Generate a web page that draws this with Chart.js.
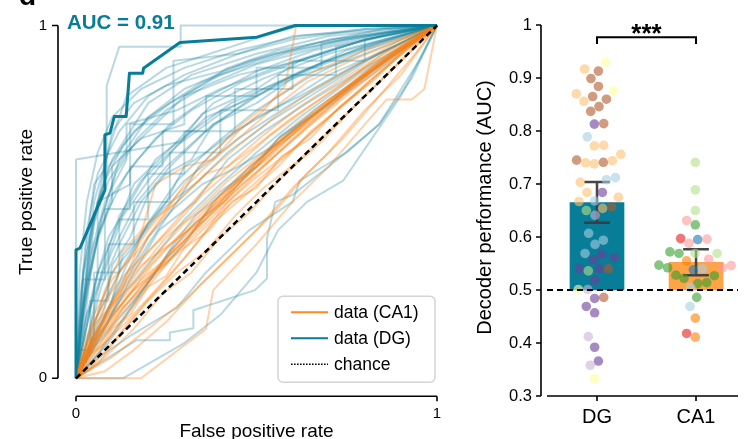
<!DOCTYPE html>
<html>
<head>
<meta charset="utf-8">
<script src="https://cdn.jsdelivr.net/npm/chart.js@4.4.1/dist/chart.umd.min.js"></script>
<style>
  html, body { margin: 0; padding: 0; background: #fff; }
  #wrap { position: relative; width: 753px; height: 439px; overflow: hidden; }
  canvas { position: absolute; top: 0; }
  #roc { left: 0; }
  #auc { left: 470px; }
</style>
</head>
<body>
<div id="wrap">
  <canvas id="roc" width="460" height="439"></canvas>
  <canvas id="auc" width="283" height="439"></canvas>
</div>
<script>
// ---- left panel: ROC curves, one [fpr, tpr] list per session ----
const dgCurves = [
  [[0,0],[0.02,0.3],[0.05,0.55],[0.085,0.6],[0.085,0.83],[0.12,0.94],[0.29,0.94],[0.29,1],[1,1]],
  [[0,0],[0,0.62],[0.29,0.67],[0.35,0.75],[0.5,0.82],[0.62,0.9],[0.8,0.96],[1,1]],
  [[0,0],[0.03,0.25],[0.07,0.45],[0.12,0.62],[0.2,0.74],[0.35,0.84],[0.5,0.9],[0.7,0.96],[1,1]],
  [[0,0],[0.02,0.2],[0.05,0.38],[0.1,0.5],[0.1,0.6],[0.18,0.68],[0.3,0.72],[0.3,0.8],[0.45,0.86],[0.62,0.9],[0.8,0.96],[1,1]],
  [[0,0],[0.04,0.2],[0.1,0.36],[0.17,0.5],[0.25,0.6],[0.38,0.72],[0.55,0.83],[0.75,0.93],[1,1]],
  [[0,0],[0.05,0.16],[0.12,0.3],[0.2,0.44],[0.3,0.56],[0.45,0.68],[0.6,0.78],[0.8,0.9],[1,1]],
  [[0,0],[0.06,0.04],[0.168,0.108],[0.26,0.108],[0.26,0.13],[0.325,0.142],[0.325,0.193],[0.496,0.25],[0.529,0.283],[0.529,0.396],[0.552,0.5],[0.6,0.52],[0.7,0.6],[0.84,0.72],[0.93,0.85],[1,1]],
  [[0,0],[0.05,0.05],[0.15,0.12],[0.28,0.2],[0.36,0.3],[0.48,0.42],[0.6,0.5],[0.62,0.56],[0.75,0.64],[0.84,0.72],[0.95,0.9],[1,1]],
  [[0,0],[0.01,0.15],[0.04,0.35],[0.08,0.5],[0.14,0.62],[0.14,0.72],[0.28,0.76],[0.4,0.82],[0.55,0.88],[0.7,0.93],[0.88,0.98],[1,1]],
  [[0,0],[0.06,0.12],[0.14,0.25],[0.22,0.35],[0.3,0.45],[0.4,0.55],[0.5,0.64],[0.62,0.74],[0.78,0.86],[1,1]],
  [[0,0],[0.02,0.1],[0.06,0.3],[0.11,0.42],[0.16,0.55],[0.26,0.65],[0.38,0.78],[0.52,0.85],[0.7,0.92],[1,1]],
  [[0,0],[0.08,0.2],[0.1,0.32],[0.15,0.4],[0.2,0.52],[0.25,0.58],[0.32,0.62],[0.38,0.72],[0.5,0.78],[0.6,0.85],[0.75,0.9],[0.9,0.96],[1,1]],
  [[0,0],[0,0.08],[0.04,0.08],[0.04,0.22],[0.09,0.22],[0.09,0.38],[0.16,0.38],[0.16,0.5],[0.26,0.5],[0.26,0.64],[0.4,0.64],[0.4,0.76],[0.56,0.76],[0.56,0.86],[0.72,0.86],[0.72,0.94],[1,1]],
  [[0,0],[0.03,0.18],[0.08,0.32],[0.13,0.46],[0.2,0.56],[0.28,0.66],[0.36,0.74],[0.5,0.8],[0.66,0.88],[0.84,0.95],[1,1]],
  [[0,0],[0.015,0.25],[0.04,0.42],[0.08,0.56],[0.13,0.66],[0.2,0.74],[0.3,0.82],[0.48,0.9],[0.66,0.95],[0.85,0.99],[1,1]],
  [[0,0],[0.1,0.18],[0.16,0.3],[0.23,0.42],[0.33,0.5],[0.42,0.62],[0.52,0.7],[0.64,0.78],[0.8,0.88],[1,1]],
  [[0,0],[0.04,0.1],[0.1,0.22],[0.13,0.35],[0.19,0.42],[0.25,0.5],[0.3,0.6],[0.36,0.64],[0.44,0.7],[0.56,0.77],[0.7,0.86],[0.88,0.94],[1,1]],
  [[0,0],[0.03,0.32],[0.06,0.5],[0.1,0.62],[0.15,0.7],[0.2,0.78],[0.32,0.86],[0.5,0.92],[0.7,0.97],[1,1]],
  [[0,0],[0.05,0.12],[0.05,0.3],[0.12,0.3],[0.12,0.45],[0.2,0.45],[0.2,0.58],[0.3,0.58],[0.3,0.7],[0.44,0.7],[0.44,0.82],[0.6,0.82],[0.6,0.9],[0.8,0.9],[0.8,0.96],[1,1]],
  [[0,0],[0.07,0.08],[0.15,0.2],[0.22,0.3],[0.3,0.38],[0.38,0.5],[0.46,0.58],[0.55,0.66],[0.66,0.76],[0.8,0.86],[1,1]],
  [[0,0],[0.02,0.14],[0.05,0.26],[0.09,0.4],[0.15,0.5],[0.22,0.62],[0.32,0.7],[0.43,0.78],[0.56,0.84],[0.72,0.91],[0.9,0.97],[1,1]],
  [[0,0],[0.04,0.4],[0.07,0.55],[0.1,0.7],[0.16,0.78],[0.25,0.83],[0.4,0.87],[0.55,0.92],[0.75,0.96],[1,1]],
  [[0,0],[0.09,0.1],[0.18,0.24],[0.26,0.36],[0.33,0.44],[0.41,0.5],[0.49,0.6],[0.57,0.69],[0.7,0.78],[0.85,0.9],[1,1]],
  [[0,0],[0.03,0.06],[0.06,0.18],[0.1,0.3],[0.18,0.4],[0.24,0.48],[0.34,0.56],[0.42,0.64],[0.54,0.73],[0.68,0.82],[0.84,0.92],[1,1]],
  [[0,0],[0.02,0.28],[0.08,0.28],[0.08,0.48],[0.15,0.48],[0.15,0.6],[0.24,0.6],[0.24,0.7],[0.36,0.7],[0.36,0.8],[0.5,0.8],[0.5,0.88],[0.68,0.88],[0.68,0.95],[1,1]],
  [[0,0],[0.12,0.26],[0.2,0.4],[0.27,0.48],[0.35,0.55],[0.45,0.6],[0.55,0.66],[0.65,0.74],[0.78,0.84],[0.9,0.93],[1,1]],
  [[0,0],[0.02,0.06],[0.05,0.2],[0.08,0.34],[0.12,0.46],[0.18,0.56],[0.28,0.66],[0.4,0.75],[0.52,0.82],[0.65,0.88],[0.82,0.95],[1,1]],
  [[0,0],[0.01,0.2],[0.03,0.42],[0.06,0.58],[0.12,0.7],[0.2,0.8],[0.3,0.86],[0.45,0.92],[0.6,0.96],[0.8,0.99],[1,1]],
  [[0,0],[0.05,0.5],[0.1,0.68],[0.14,0.8],[0.25,0.88],[0.4,0.93],[0.52,0.97],[0.62,1],[1,1]],
  [[0,0],[0.06,0.1],[0.1,0.15],[0.16,0.22],[0.22,0.3],[0.27,0.38],[0.33,0.46],[0.4,0.53],[0.5,0.6],[0.56,0.68],[0.68,0.76],[0.82,0.86],[1,1]],
  [[0,0],[0.13,0],[0.3,0.1],[0.4,0.18],[0.5,0.3],[0.56,0.42],[0.64,0.5],[0.74,0.56],[0.82,0.68],[0.9,0.8],[1,1]],
  [[0,0],[0.02,0.22],[0.05,0.36],[0.09,0.48],[0.14,0.58],[0.22,0.68],[0.32,0.76],[0.46,0.84],[0.62,0.9],[0.8,0.96],[1,1]],
  [[0,0],[0.03,0.1],[0.07,0.26],[0.12,0.38],[0.18,0.5],[0.26,0.6],[0.36,0.7],[0.48,0.79],[0.62,0.87],[0.8,0.94],[1,1]],
  [[0,0],[0.01,0.1],[0.02,0.3],[0.05,0.46],[0.09,0.6],[0.16,0.7],[0.26,0.78],[0.4,0.86],[0.58,0.92],[0.78,0.97],[1,1]],
  [[0,0],[0.03,0.15],[0.06,0.3],[0.06,0.5],[0.15,0.55],[0.15,0.72],[0.27,0.72],[0.27,0.9],[0.45,0.92],[0.6,0.97],[1,1]],
  [[0,0],[0.08,0.14],[0.14,0.28],[0.2,0.38],[0.28,0.5],[0.34,0.6],[0.42,0.68],[0.5,0.74],[0.62,0.8],[0.76,0.88],[0.9,0.95],[1,1]],
  [[0,0],[0.02,0.12],[0.04,0.3],[0.07,0.45],[0.11,0.58],[0.17,0.68],[0.25,0.76],[0.36,0.83],[0.5,0.89],[0.68,0.94],[0.86,0.98],[1,1]],
  [[0,0],[0.01,0.3],[0.03,0.5],[0.06,0.64],[0.1,0.74],[0.18,0.82],[0.3,0.88],[0.45,0.93],[0.62,0.97],[0.8,0.99],[1,1]],
  [[0,0],[0.04,0.08],[0.09,0.2],[0.14,0.32],[0.2,0.44],[0.28,0.56],[0.38,0.66],[0.5,0.76],[0.64,0.85],[0.8,0.93],[1,1]],
  [[0,0],[0.02,0.18],[0.06,0.4],[0.1,0.52],[0.17,0.62],[0.26,0.72],[0.37,0.8],[0.5,0.87],[0.66,0.93],[0.84,0.97],[1,1]],
  [[0,0],[0.03,0.26],[0.05,0.44],[0.09,0.56],[0.14,0.64],[0.22,0.72],[0.3,0.8],[0.42,0.88],[0.56,0.93],[0.72,0.96],[1,1]]
];

const ca1Curves = [
  [[0,0],[0.05,0.1],[0.12,0.25],[0.16,0.34],[0.22,0.55],[0.3,0.6],[0.38,0.62],[0.45,0.7],[0.52,0.76],[0.58,0.83],[0.61,1],[1,1]],
  [[0,0],[0.18,0],[0.36,0.14],[0.38,0.25],[0.5,0.38],[0.6,0.5],[0.7,0.6],[0.8,0.72],[0.86,0.79],[0.93,0.79],[0.965,0.82],[1,1]],
  [[0,0],[0.05,0.08],[0.12,0.17],[0.2,0.27],[0.3,0.38],[0.4,0.48],[0.5,0.58],[0.6,0.68],[0.7,0.77],[0.8,0.86],[0.9,0.94],[1,1]],
  [[0,0],[0.04,0.1],[0.1,0.2],[0.17,0.3],[0.25,0.4],[0.33,0.47],[0.42,0.56],[0.52,0.64],[0.62,0.73],[0.74,0.82],[0.87,0.92],[1,1]],
  [[0,0],[0.06,0.08],[0.14,0.16],[0.22,0.25],[0.3,0.34],[0.38,0.44],[0.47,0.52],[0.56,0.6],[0.65,0.7],[0.76,0.79],[0.88,0.9],[1,1]],
  [[0,0],[0.03,0.12],[0.08,0.22],[0.14,0.3],[0.2,0.36],[0.27,0.43],[0.35,0.52],[0.44,0.6],[0.54,0.69],[0.66,0.78],[0.8,0.88],[1,1]],
  [[0,0],[0.05,0.05],[0.1,0.14],[0.15,0.18],[0.2,0.26],[0.25,0.29],[0.3,0.37],[0.37,0.42],[0.43,0.5],[0.5,0.54],[0.57,0.63],[0.65,0.68],[0.73,0.77],[0.82,0.84],[0.91,0.93],[1,1]],
  [[0,0],[0.1,0.22],[0.15,0.3],[0.2,0.4],[0.26,0.48],[0.3,0.52],[0.36,0.58],[0.42,0.6],[0.5,0.66],[0.6,0.74],[0.72,0.82],[0.85,0.92],[1,1]],
  [[0,0],[0.08,0.06],[0.16,0.14],[0.24,0.24],[0.32,0.3],[0.4,0.4],[0.48,0.47],[0.58,0.58],[0.68,0.67],[0.78,0.78],[0.9,0.9],[1,1]],
  [[0,0],[0.02,0.05],[0.07,0.13],[0.12,0.2],[0.18,0.28],[0.24,0.33],[0.3,0.41],[0.38,0.49],[0.45,0.56],[0.53,0.62],[0.62,0.71],[0.72,0.8],[0.84,0.9],[1,1]],
  [[0,0],[0.04,0.03],[0.1,0.1],[0.18,0.2],[0.26,0.29],[0.34,0.39],[0.42,0.5],[0.5,0.57],[0.6,0.65],[0.7,0.74],[0.82,0.85],[1,1]],
  [[0,0],[0.06,0.14],[0.12,0.24],[0.18,0.32],[0.26,0.38],[0.34,0.44],[0.4,0.52],[0.48,0.58],[0.56,0.66],[0.64,0.72],[0.74,0.8],[0.86,0.9],[1,1]],
  [[0,0],[0.04,0.12],[0.08,0.25],[0.13,0.36],[0.2,0.44],[0.28,0.5],[0.36,0.58],[0.45,0.66],[0.55,0.74],[0.66,0.82],[0.78,0.89],[0.9,0.96],[1,1]],
  [[0,0],[0.1,0.06],[0.2,0.14],[0.3,0.22],[0.4,0.32],[0.5,0.42],[0.6,0.54],[0.7,0.64],[0.8,0.76],[0.9,0.86],[1,1]],
  [[0,0],[0.03,0.06],[0.08,0.1],[0.14,0.18],[0.2,0.26],[0.28,0.36],[0.36,0.46],[0.46,0.56],[0.56,0.66],[0.68,0.76],[0.8,0.86],[0.92,0.95],[1,1]],
  [[0,0],[0.05,0.15],[0.11,0.22],[0.17,0.28],[0.24,0.36],[0.31,0.42],[0.4,0.5],[0.48,0.6],[0.58,0.68],[0.7,0.79],[0.83,0.88],[1,1]],
  [[0,0],[0.06,0.16],[0.12,0.3],[0.2,0.42],[0.28,0.52],[0.36,0.6],[0.45,0.68],[0.54,0.76],[0.64,0.84],[0.76,0.9],[0.88,0.95],[1,1]],
  [[0,0],[0.08,0.02],[0.16,0.08],[0.25,0.16],[0.34,0.26],[0.44,0.36],[0.54,0.46],[0.64,0.58],[0.74,0.68],[0.84,0.8],[0.94,0.92],[1,1]],
  [[0,0],[0.03,0.08],[0.09,0.16],[0.15,0.24],[0.22,0.31],[0.3,0.4],[0.38,0.47],[0.46,0.55],[0.55,0.63],[0.65,0.72],[0.76,0.82],[0.88,0.92],[1,1]],
  [[0,0],[0.07,0.1],[0.13,0.2],[0.19,0.26],[0.25,0.34],[0.31,0.4],[0.37,0.48],[0.44,0.54],[0.51,0.62],[0.6,0.7],[0.7,0.78],[0.82,0.87],[1,1]],
  [[0,0],[0.05,0.18],[0.1,0.28],[0.17,0.36],[0.24,0.46],[0.3,0.55],[0.38,0.64],[0.46,0.72],[0.56,0.8],[0.66,0.87],[0.8,0.93],[1,1]],
  [[0,0],[0.04,0.08],[0.1,0.18],[0.16,0.25],[0.23,0.31],[0.3,0.37],[0.38,0.45],[0.47,0.53],[0.57,0.62],[0.68,0.72],[0.8,0.83],[0.92,0.94],[1,1]],
  [[0,0],[0.05,0.12],[0.1,0.19],[0.17,0.28],[0.23,0.36],[0.3,0.44],[0.38,0.5],[0.46,0.57],[0.55,0.66],[0.66,0.75],[0.78,0.85],[0.9,0.93],[1,1]],
  [[0,0],[0.06,0.04],[0.12,0.12],[0.2,0.22],[0.28,0.3],[0.36,0.36],[0.44,0.46],[0.52,0.54],[0.62,0.62],[0.72,0.72],[0.84,0.84],[1,1]],
  [[0,0],[0.03,0.07],[0.08,0.15],[0.14,0.23],[0.21,0.32],[0.28,0.4],[0.36,0.48],[0.45,0.57],[0.55,0.66],[0.66,0.75],[0.78,0.84],[0.9,0.93],[1,1]],
  [[0,0],[0.05,0.09],[0.11,0.17],[0.18,0.26],[0.26,0.35],[0.34,0.43],[0.42,0.52],[0.5,0.6],[0.6,0.69],[0.7,0.78],[0.82,0.88],[1,1]],
  [[0,0],[0.02,0.04],[0.06,0.11],[0.12,0.19],[0.19,0.27],[0.27,0.36],[0.35,0.44],[0.44,0.53],[0.54,0.62],[0.64,0.71],[0.76,0.81],[0.88,0.91],[1,1]],
  [[0,0],[0.04,0.1],[0.09,0.2],[0.15,0.29],[0.21,0.37],[0.28,0.45],[0.35,0.53],[0.43,0.61],[0.52,0.69],[0.62,0.77],[0.74,0.85],[0.87,0.93],[1,1]]
];

// highlighted example session
const exampleCurve = [[0,0],[0,0.364],[0.011,0.369],[0.08,0.534],[0.08,0.69],[0.094,0.695],[0.106,0.742],[0.139,0.742],[0.148,0.865],[0.185,0.865],[0.187,0.879],[0.288,0.952],[0.501,0.967],[0.607,1],[1,1]];
const exampleAuc = 'AUC = 0.91';
const chanceLine = [[0,0],[1,1]];
const rocTicks = [0, 1];
const rocTickLabels = ['0', '1'];
const legendLabels = ['data (CA1)', 'data (DG)', 'chance'];

// ---- right panel: decoder performance per session ----
const regions = ['DG', 'CA1'];
const meanAuc = [0.665, 0.552];
const semLow = [0.627, 0.528];
const semHigh = [0.704, 0.577];
const chanceLevel = 0.5;
const sigBracket = [0.964, 0.977];
const sigLabel = '***';
const aucTicks = [0.3, 0.4, 0.5, 0.6, 0.7, 0.8, 0.9, 1];
const aucTickLabels = ['0.3', '0.4', '0.5', '0.6', '0.7', '0.8', '0.9', '1'];

const dgAuc = [0.930,0.917,0.913,0.899,0.884,0.870,0.876,0.856,0.865,0.860,0.846,0.837,0.813,0.814,0.789,0.772,0.773,0.745,0.740,0.738,
  0.741,0.744,0.756,0.708,0.712,0.703,0.684,0.684,0.675,0.667,0.668,0.650,0.654,0.657,0.641,0.607,0.594,0.586,0.569,0.567,
  0.557,0.561,0.540,0.536,0.540,0.540,0.518,0.501,0.501,0.484,0.486,0.469,0.457,0.412,0.392,0.366,0.358,0.333];
const dgSpread = [0.088,-0.125,0.014,-0.061,0.014,-0.209,0.169,-0.132,-0.044,0.095,0.020,-0.064,-0.027,0.068,-0.098,-0.027,0.068,-0.206,-0.115,-0.027,
  0.064,0.155,0.240,0.095,0.186,-0.169,-0.101,0.054,0.216,-0.182,-0.024,-0.108,0.057,0.148,-0.020,-0.084,0.064,-0.020,-0.121,0.047,
  -0.037,0.175,-0.179,-0.088,0.023,0.114,-0.020,-0.189,-0.094,-0.024,0.068,-0.108,-0.024,-0.088,-0.024,0.014,-0.068,-0.024];
const dgAnimal = [11,7,12,12,12,7,11,7,12,12,12,12,10,12,1,7,7,12,7,7,
  12,7,7,1,1,7,7,10,7,7,1,3,7,12,9,1,1,1,1,10,
  10,10,10,3,10,12,10,11,9,10,12,10,10,9,10,10,9,11];

const ca1Auc = [0.741,0.689,0.650,0.631,0.623,0.597,0.588,0.595,0.596,0.572,0.569,0.569,0.569,0.547,0.542,0.555,0.558,0.542,0.546,0.538,
  0.540,0.528,0.522,0.512,0.514,0.527,0.505,0.486,0.469,0.447,0.418,0.411];
const ca1Spread = [-0.007,-0.007,-0.007,-0.095,-0.007,-0.155,-0.071,0.017,0.111,-0.264,-0.172,-0.010,0.213,-0.375,-0.287,-0.095,0.128,0.267,0.355,-0.027,
  0.064,-0.203,-0.122,0.017,0.108,0.185,-0.054,0.007,-0.061,-0.007,-0.095,-0.007];
const ca1Animal = [3,3,3,5,4,6,5,2,5,4,4,3,3,4,4,8,5,5,5,2,
  1,4,4,4,4,4,1,4,1,8,6,8];

// ---- styles ----
const FONT = "'Liberation Sans', Arial, Helvetica, sans-serif";
const TEAL = '#087d98';
const TEAL_LIGHT = 'rgba(20,130,160,0.3)';
const ORANGE = '#ff8a1f';
const ORANGE_LIGHT = 'rgba(255,127,14,0.35)';
// Paired colormap, alpha 0.6, indexed by animal id (1..12)
const paired = [null,
  'rgba(166,206,227,0.6)','rgba(31,120,180,0.6)','rgba(178,223,138,0.6)','rgba(51,160,44,0.6)',
  'rgba(251,154,153,0.6)','rgba(227,26,28,0.6)','rgba(253,191,111,0.6)','rgba(255,127,0,0.6)',
  'rgba(202,178,214,0.6)','rgba(106,61,154,0.6)','rgba(255,255,153,0.6)','rgba(177,89,40,0.6)'];

const toXY = pts => pts.map(p => ({ x: p[0], y: p[1] }));

function line(ctx, x1, y1, x2, y2) { ctx.moveTo(x1, y1); ctx.lineTo(x2, y2); }

// hidden grid, tick labels pushed out through tickLength (ticks.padding would also pad the chart area)
const quietGrid = len => ({ display: false, drawTicks: true, tickLength: len });

// ================= ROC panel =================
const rocDatasets = [];
dgCurves.forEach(c => rocDatasets.push({ data: toXY(c), borderColor: TEAL_LIGHT, borderWidth: 2, order: 30 }));
ca1Curves.forEach(c => rocDatasets.push({ data: toXY(c), borderColor: ORANGE_LIGHT, borderWidth: 2, order: 20 }));
rocDatasets.push({ data: toXY(exampleCurve), borderColor: TEAL, borderWidth: 3, order: 2 });
rocDatasets.push({ data: toXY(chanceLine), borderColor: '#000', borderWidth: 2.5, borderDash: [6, 4], order: 1 });

const rocDecor = {
  id: 'rocDecor',
  afterDraw(chart) {
    const { ctx, chartArea: a, scales: { x, y } } = chart;
    ctx.save();
    // detached spines
    ctx.strokeStyle = '#000';
    ctx.lineWidth = 1.6;
    ctx.beginPath();
    const sx = a.left - 18, sy = a.bottom + 18;
    line(ctx, sx, y.getPixelForValue(1), sx, y.getPixelForValue(0));
    rocTicks.forEach(v => line(ctx, sx - 6, y.getPixelForValue(v), sx, y.getPixelForValue(v)));
    line(ctx, x.getPixelForValue(0), sy, x.getPixelForValue(1), sy);
    rocTicks.forEach(v => line(ctx, x.getPixelForValue(v), sy, x.getPixelForValue(v), sy + 5));
    ctx.stroke();

    // titles
    ctx.fillStyle = '#000';
    ctx.font = '19px ' + FONT;
    ctx.textAlign = 'center';
    ctx.textBaseline = 'alphabetic';
    ctx.fillText('False positive rate', (a.left + a.right) / 2, 437);
    ctx.save();
    ctx.translate(32, (a.top + a.bottom) / 2);
    ctx.rotate(-Math.PI / 2);
    ctx.fillText('True positive rate', 0, 0);
    ctx.restore();

    // panel letter (cut off at the top)
    ctx.font = 'bold 28px ' + FONT;
    ctx.textAlign = 'left';
    ctx.fillText('d', 19, 5);

    // example AUC
    ctx.fillStyle = TEAL;
    ctx.font = 'bold 20.5px ' + FONT;
    ctx.fillText(exampleAuc, 67, 28.5);

    // legend box
    const lx = a.right - 159, ly = a.bottom - 82, lw = 157, lh = 86;
    ctx.beginPath();
    ctx.roundRect(lx, ly, lw, lh, 5);
    ctx.fillStyle = 'rgba(255,255,255,0.85)';
    ctx.fill();
    ctx.strokeStyle = '#d4d4d4';
    ctx.lineWidth = 1.5;
    ctx.stroke();
    const rows = [
      { color: ORANGE, dash: [], w: 2 },
      { color: TEAL, dash: [], w: 2 },
      { color: '#000', dash: [1.6, 1.4], w: 1.6 }
    ];
    ctx.font = '17.5px ' + FONT;
    ctx.textBaseline = 'middle';
    rows.forEach((r, i) => {
      const yy = ly + 16 + i * 26;
      ctx.beginPath();
      ctx.setLineDash(r.dash);
      ctx.strokeStyle = r.color;
      ctx.lineWidth = r.w;
      line(ctx, lx + 13, yy, lx + 50, yy);
      ctx.stroke();
      ctx.setLineDash([]);
      ctx.fillStyle = '#000';
      ctx.fillText(legendLabels[i], lx + 56, yy + 1);
    });
    ctx.restore();
  }
};

new Chart(document.getElementById('roc'), {
  type: 'scatter',
  data: { datasets: rocDatasets },
  options: {
    responsive: false,
    animation: false,
    events: [],
    layout: { padding: { top: 25.5, right: 23, left: 0, bottom: 0 } },
    plugins: { legend: { display: false }, tooltip: { enabled: false } },
    datasets: { scatter: { showLine: true, pointRadius: 0, fill: false, tension: 0, clip: false, borderJoinStyle: 'round' } },
    scales: {
      x: {
        type: 'linear', min: 0, max: 1, offset: false,
        grid: quietGrid(27), border: { display: false },
        afterFit: s => { s.height = 60.7; },
        afterBuildTicks: s => { s.ticks = rocTicks.map(v => ({ value: v })); },
        ticks: { autoSkip: false, maxRotation: 0, padding: 0, color: '#000', font: { size: 15, family: FONT },
                 callback: (v, i) => rocTickLabels[i] }
      },
      y: {
        type: 'linear', min: 0, max: 1,
        grid: quietGrid(29), border: { display: false },
        afterFit: s => { s.width = 76; },
        afterBuildTicks: s => { s.ticks = rocTicks.map(v => ({ value: v })); },
        ticks: { autoSkip: false, padding: 0, color: '#000', font: { size: 15, family: FONT },
                 callback: (v, i) => rocTickLabels[i] }
      }
    }
  },
  plugins: [rocDecor]
});

// ================= AUC panel =================
const X_LO = -0.505, X_HI = 1.424, CAP = 0.13;

const errData = [];
regions.forEach((r, i) => {
  errData.push({ x: i, y: semLow[i] }, { x: i, y: semHigh[i] }, { x: i, y: null });
  errData.push({ x: i - CAP, y: semHigh[i] }, { x: i + CAP, y: semHigh[i] }, { x: i, y: null });
  errData.push({ x: i - CAP, y: semLow[i] }, { x: i + CAP, y: semLow[i] }, { x: i, y: null });
});

const aucDecor = {
  id: 'aucDecor',
  afterDraw(chart) {
    const { ctx, chartArea: a, scales: { x, y } } = chart;
    ctx.save();
    ctx.strokeStyle = '#000';
    ctx.lineWidth = 1.6;
    ctx.beginPath();
    const sx = a.left - 6;
    line(ctx, sx, y.getPixelForValue(aucTicks[aucTicks.length - 1]), sx, y.getPixelForValue(aucTicks[0]));
    aucTicks.forEach(v => line(ctx, sx - 5, y.getPixelForValue(v), sx, y.getPixelForValue(v)));
    line(ctx, a.left, a.bottom, a.right, a.bottom);
    regions.forEach((r, i) => line(ctx, x.getPixelForValue(i), a.bottom, x.getPixelForValue(i), a.bottom + 5));
    ctx.stroke();

    ctx.fillStyle = '#000';
    ctx.font = '20px ' + FONT;
    ctx.textAlign = 'center';
    ctx.textBaseline = 'alphabetic';
    ctx.save();
    ctx.translate(21, (a.top + a.bottom) / 2 - 3);
    ctx.rotate(-Math.PI / 2);
    ctx.fillText('Decoder performance (AUC)', 0, 0);
    ctx.restore();

    ctx.font = 'bold 26px ' + FONT;
    ctx.fillText(sigLabel, x.getPixelForValue(0.5), y.getPixelForValue(sigBracket[1]) + 5);
    ctx.restore();
  }
};

const pointsFor = (vals, spread, center) => vals.map((v, i) => ({ x: center + spread[i], y: v }));

new Chart(document.getElementById('auc'), {
  type: 'scatter',
  data: {
    datasets: [
      {
        type: 'bar',
        data: regions.map((r, i) => ({ x: i, y: [chanceLevel, meanAuc[i]] })),
        backgroundColor: [TEAL, 'rgba(255,127,0,0.72)'],
        borderWidth: 0,
        barThickness: 54,
        order: 10
      },
      {
        data: errData, showLine: true, spanGaps: false, pointRadius: 0,
        borderColor: 'rgba(60,60,60,0.95)', borderWidth: 2.5, order: 8
      },
      {
        data: pointsFor(dgAuc, dgSpread, 0),
        backgroundColor: dgAnimal.map(k => paired[k]),
        pointRadius: 4.8, pointBorderWidth: 0, order: 6
      },
      {
        data: pointsFor(ca1Auc, ca1Spread, 1),
        backgroundColor: ca1Animal.map(k => paired[k]),
        pointRadius: 4.8, pointBorderWidth: 0, order: 5
      },
      {
        data: [{ x: X_LO, y: chanceLevel }, { x: X_HI, y: chanceLevel }],
        showLine: true, pointRadius: 0, borderColor: '#000', borderWidth: 2.2, borderDash: [6, 4], order: 2
      },
      {
        data: [{ x: 0, y: sigBracket[0] }, { x: 0, y: sigBracket[1] }, { x: 1, y: sigBracket[1] }, { x: 1, y: sigBracket[0] }],
        showLine: true, pointRadius: 0, borderColor: '#000', borderWidth: 2, clip: false, order: 1
      }
    ]
  },
  options: {
    responsive: false,
    animation: false,
    events: [],
    layout: { padding: { top: 25, right: 15, left: 0, bottom: 0 } },
    plugins: { legend: { display: false }, tooltip: { enabled: false } },
    scales: {
      x: {
        type: 'linear', min: X_LO, max: X_HI, offset: false,
        grid: quietGrid(9), border: { display: false },
        afterFit: s => { s.height = 43; },
        afterBuildTicks: s => { s.ticks = regions.map((r, i) => ({ value: i })); },
        ticks: { autoSkip: false, maxRotation: 0, padding: 0, color: '#000', font: { size: 20, family: FONT },
                 callback: (v, i) => regions[i] }
      },
      y: {
        type: 'linear', min: 0.3, max: 1,
        grid: quietGrid(15), border: { display: false },
        afterFit: s => { s.width = 77; },
        afterBuildTicks: s => { s.ticks = aucTicks.map(v => ({ value: v })); },
        ticks: { autoSkip: false, padding: 0, color: '#000', font: { size: 16.5, family: FONT },
                 callback: (v, i) => aucTickLabels[i] }
      }
    }
  },
  plugins: [aucDecor]
});
</script>
</body>
</html>
